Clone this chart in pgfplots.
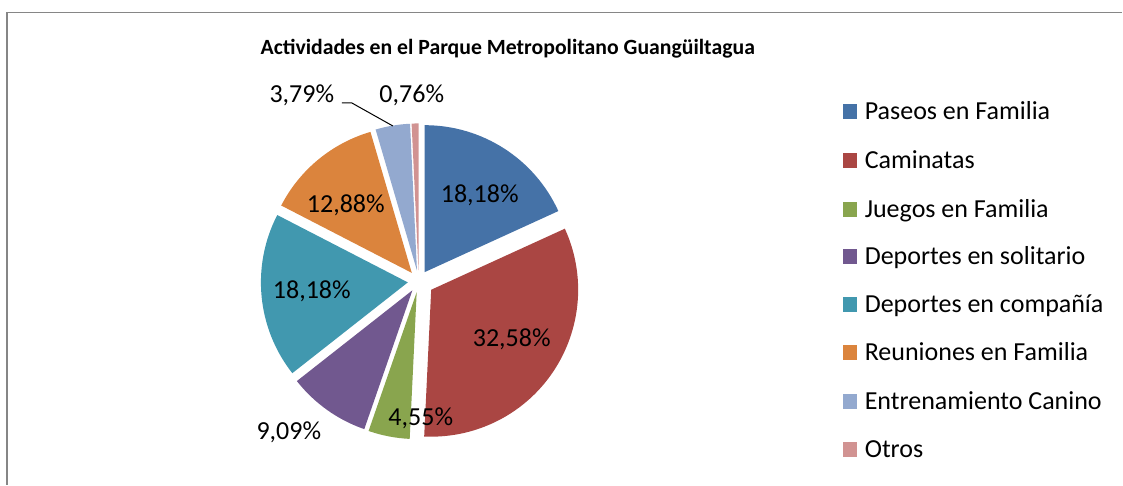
\documentclass[border=0pt]{standalone}
\usepackage{pgfplots}
\pgfplotsset{compat=1.18}
\usepackage{pgfplotstable}
\usepackage{fontspec}
\setmainfont{Carlito}
\definecolor{c0}{HTML}{4572A7}
\definecolor{c1}{HTML}{AA4643}
\definecolor{c2}{HTML}{89A54E}
\definecolor{c3}{HTML}{71588F}
\definecolor{c4}{HTML}{4198AF}
\definecolor{c5}{HTML}{DB843D}
\definecolor{c6}{HTML}{93A9CF}
\definecolor{c7}{HTML}{D19392}
\definecolor{framegray}{HTML}{868686}
% val = share in percent, d = explosion (px), lx/ly = label baseline (px from top), ry = legend row centre (px from top)
\pgfplotstableread{
val   d  col lx  ly  ry  label
18.18 11 c0  480 203 112 {Paseos en Familia}
32.58 15 c1  512 347 161 {Caminatas}
4.55  11 c2  421 426 210 {Juegos en Familia}
9.09  11 c3  289 440 257 {Deportes en solitario}
18.18 11 c4  312 299 305 {Deportes en compañía}
12.88 11 c5  346 213 353 {Reuniones en Familia}
3.79  11 c6  302 103 402 {Entrenamiento Canino}
0.76  11 c7  412 103 450 {Otros}
}\piedata
\begin{document}
\begin{tikzpicture}
\begin{axis}[
  width=842.25pt, height=363.75pt, scale only axis,
  xmin=0, xmax=1123, ymin=0, ymax=485,
  hide axis, clip=false,
]
\pgfplotsextra{
  \path (axis cs:0,0) rectangle (axis cs:1123,485);
  \draw[framegray, line width=1.5pt] (axis cs:7.5,0) -- (axis cs:7.5,472.5);
  \draw[framegray, line width=0.9pt] (axis cs:6.75,472.5) -- (axis cs:1123,472.5);
  \node[anchor=base, font=\bfseries\fontsize{16.3}{20}\selectfont] at (axis cs:508,430) {Actividades en el Parque Metropolitano Guangüiltagua};
  \def\cum{0}
  \pgfplotsforeachungrouped \i in {0,...,7}{
    \pgfplotstablegetelem{\i}{val}\of\piedata \let\v\pgfplotsretval
    \pgfplotstablegetelem{\i}{d}\of\piedata \let\dd\pgfplotsretval
    \pgfplotstablegetelem{\i}{col}\of\piedata \let\cc\pgfplotsretval
    \pgfplotstablegetelem{\i}{lx}\of\piedata \let\lx\pgfplotsretval
    \pgfplotstablegetelem{\i}{ly}\of\piedata \let\ly\pgfplotsretval
    \pgfplotstablegetelem{\i}{ry}\of\piedata \let\ry\pgfplotsretval
    \pgfplotstablegetelem{\i}{label}\of\piedata \let\lab\pgfplotsretval
    \pgfmathsetmacro\a{90-3.6*\cum}
    \pgfmathsetmacro\b{90-3.6*(\cum+\v)}
    \pgfmathsetmacro\m{(\a+\b)/2}
    \pgfmathsetmacro\cum{\cum+\v}
    \fill[\cc] (axis cs:419,203.5) ++(\m:\dd*0.75pt) -- ++(\a:110.25pt)
       arc[start angle=\a, end angle=\b, radius=110.25pt] -- cycle;
    \node[anchor=base, inner sep=0pt, font=\fontsize{19.5}{23}\selectfont]
       at (axis cs:\lx,485-\ly) {\pgfmathprintnumber[fixed,fixed zerofill,precision=2,use comma,assume math mode=true]{\v}\%};
    \fill[\cc] (axis cs:843,485-\ry) ++(0,-5.6pt) rectangle ++(11.2pt,11.2pt);
    \node[anchor=base west, inner sep=0pt, font=\fontsize{19.5}{23}\selectfont]
       at (axis cs:865,485-\ry-7.5) {\lab};
  }
  \draw[black, line width=0.75pt] (axis cs:342,382) -- (axis cs:352,382) -- (axis cs:393,359);
}
\end{axis}
\end{tikzpicture}
\end{document}
